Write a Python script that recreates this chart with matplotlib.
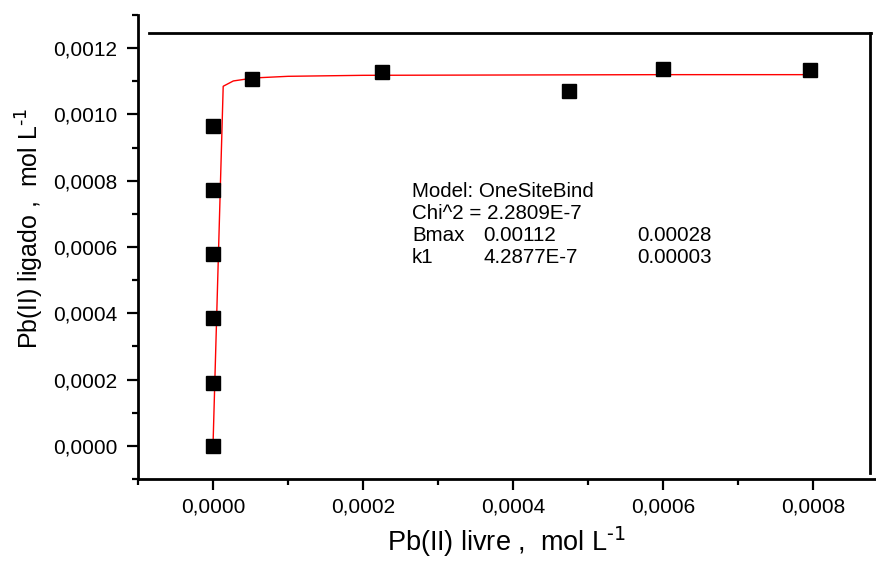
import matplotlib
matplotlib.use("Agg")
import matplotlib.pyplot as plt
from matplotlib.lines import Line2D
from matplotlib.ticker import MultipleLocator, FuncFormatter

plt.rcParams['font.family'] = ['Liberation Sans', 'DejaVu Sans']
plt.rcParams['mathtext.default'] = 'regular'

# measured points (free vs bound Pb(II), mol/L)
x_livre = [0.0, 0.0, 0.0, 0.0, 0.0, 0.0, 0.000052, 0.000225, 0.000475, 0.0006, 0.000796]
y_ligado = [0.0, 0.000191, 0.000385, 0.000580, 0.000771, 0.000965,
            0.001108, 0.001129, 0.001072, 0.001138, 0.001135]

# fitted OneSiteBind curve, vertices
fit_x = [0.0, 0.0000136, 0.0000271, 0.0000542, 0.0001, 0.0002, 0.0004, 0.0006, 0.0008]
fit_y = [0.0, 0.001085, 0.001101, 0.001110, 0.001115, 0.001118, 0.001119, 0.00112, 0.00112]

fit_lines = [
    ["Model: OneSiteBind", "", ""],
    ["Chi^2 = 2.2809E-7", "", ""],
    ["Bmax", "0.00112", "0.00028"],
    ["k1", "4.2877E-7", "0.00003"],
]

fig = plt.figure(figsize=(8.76, 5.62), dpi=100)
ax = fig.add_axes([138 / 876, 83 / 562, 738 / 876, 464 / 562])

ax.plot(fit_x, fit_y, color='red', lw=1.0, zorder=2)
ax.plot(x_livre, y_ligado, 's', color='black', ms=9.5, zorder=3)

ax.set_xlim(-0.0001, 0.000884)
ax.set_ylim(-0.0001, 0.0013)

ax.xaxis.set_major_locator(MultipleLocator(0.0002))
ax.xaxis.set_minor_locator(MultipleLocator(0.0001))
ax.yaxis.set_major_locator(MultipleLocator(0.0002))
ax.yaxis.set_minor_locator(MultipleLocator(0.0001))
comma = FuncFormatter(lambda v, p: ('%.4f' % (0.0 if abs(v) < 1e-12 else v)).replace('.', ','))
ax.xaxis.set_major_formatter(comma)
ax.yaxis.set_major_formatter(comma)

# Origin-like frame: only left and bottom are real axes
ax.spines['top'].set_visible(False)
ax.spines['right'].set_visible(False)
for s in ('left', 'bottom'):
    ax.spines[s].set_linewidth(2.0)

ax.tick_params(which='major', direction='out', length=8, width=1.6, labelsize=15, pad=7)
ax.tick_params(which='minor', direction='out', length=4, width=1.6)
ax.tick_params(axis='x', which='major', pad=5.5)

ax.set_xlabel(r'Pb(II) livre ,  mol L$^{\text{-1}}$', fontsize=19.5)
ax.xaxis.set_label_coords(0.5, -0.097)
ax.set_ylabel(r'Pb(II) ligado ,  mol L$^{\text{-1}}$', fontsize=18)
ax.yaxis.set_label_coords(-0.124, 0.54)

# partial top / right frame lines
fig.add_artist(Line2D([149 / 876, 871 / 876], [1 - 33 / 562, 1 - 33 / 562],
                      color='black', lw=2.0))
fig.add_artist(Line2D([870 / 876, 870 / 876], [1 - 473 / 562, 1 - 33 / 562],
                      color='black', lw=2.0))

col_x = [0.3713, 0.4675, 0.6762]
row_y = [0.6078, 0.5603, 0.5129, 0.4655]
for r, row in enumerate(fit_lines):
    for c, txt in enumerate(row):
        if txt:
            ax.text(col_x[c], row_y[r], txt, transform=ax.transAxes,
                    fontsize=14.8, va='baseline', ha='left')

fig.savefig('out.png', dpi=100)
